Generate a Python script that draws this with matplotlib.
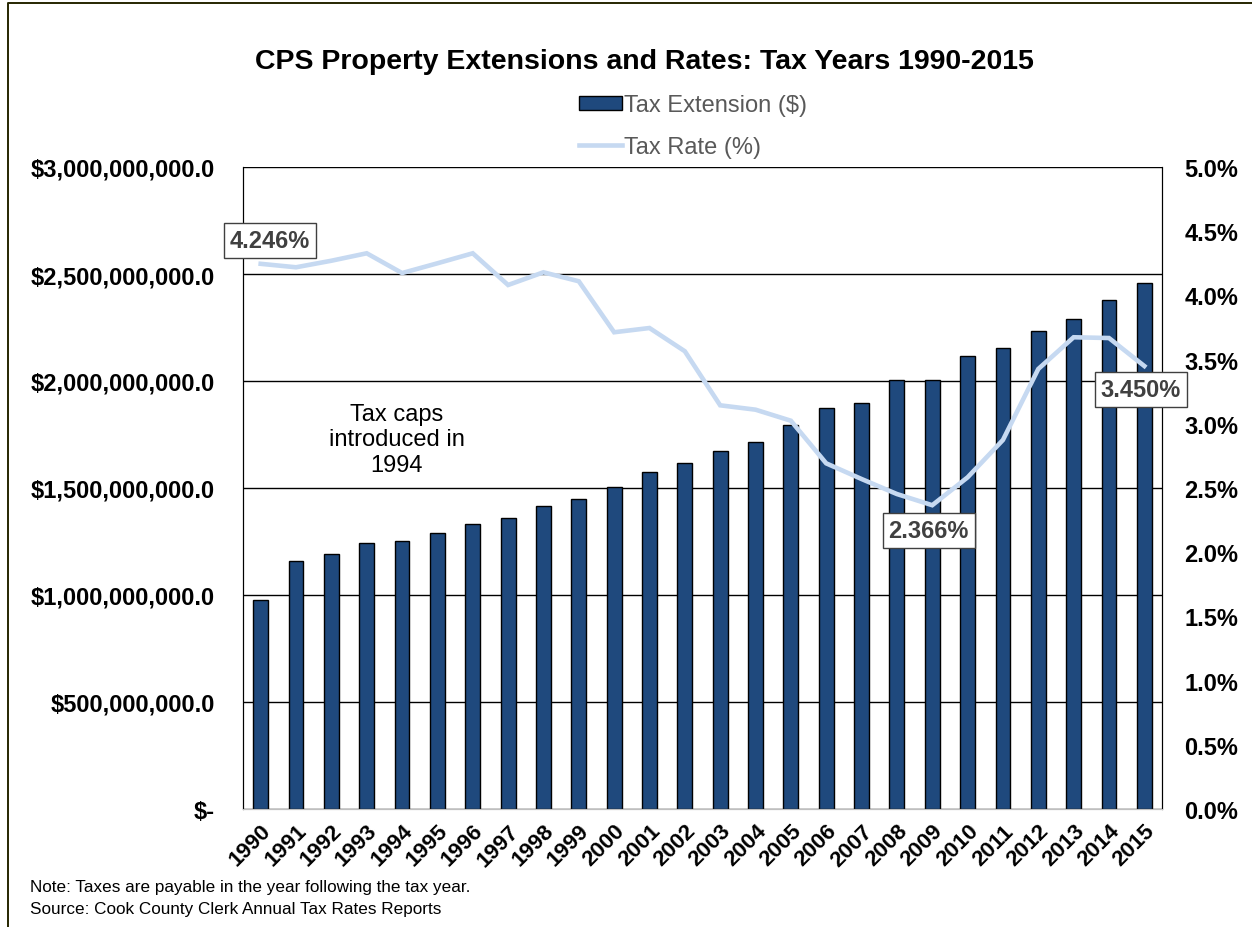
import matplotlib
matplotlib.use('Agg')
import matplotlib.pyplot as plt
from matplotlib.lines import Line2D
from matplotlib.patches import Patch
from matplotlib.ticker import FuncFormatter, MultipleLocator
import numpy as np

plt.rcParams['font.family'] = ['Liberation Sans', 'DejaVu Sans']

years = [str(y) for y in range(1990, 2016)]
# tax extension, dollars
extension = [0.978e9, 1.159e9, 1.193e9, 1.243e9, 1.254e9, 1.290e9, 1.332e9,
             1.358e9, 1.414e9, 1.449e9, 1.505e9, 1.575e9, 1.617e9, 1.671e9,
             1.713e9, 1.796e9, 1.872e9, 1.899e9, 2.003e9, 2.003e9, 2.115e9,
             2.156e9, 2.234e9, 2.288e9, 2.379e9, 2.457e9]
# tax rate, percent
rate = [4.246, 4.219, 4.270, 4.328, 4.174, 4.250, 4.328, 4.081, 4.180, 4.110,
        3.713, 3.746, 3.565, 3.144, 3.110, 3.024, 2.692, 2.570, 2.453, 2.366,
        2.583, 2.874, 3.427, 3.674, 3.668, 3.450]

bar_col = '#1F497D'
line_col = '#C6D9F1'
lbl_col = '#404040'

fig = plt.figure(figsize=(12.52, 9.28), dpi=100)
ax = fig.add_axes([243 / 1252, 1 - 810 / 928, 919 / 1252, 642 / 928])
ax2 = ax.twinx()

x = np.arange(len(years))
ax.bar(x, extension, width=0.42, color=bar_col, edgecolor='black',
       linewidth=1, zorder=3)
ax.set_xlim(-0.5, len(years) - 0.5)
ax.set_ylim(0, 3e9)
ax.yaxis.set_major_locator(MultipleLocator(5e8))
ax.yaxis.set_major_formatter(FuncFormatter(
    lambda v, p: '$-' if v == 0 else '${:,.1f}'.format(v)))
ax.grid(axis='y', color='black', linewidth=1, zorder=0)
ax.set_axisbelow(True)
ax.set_xticks(x)
ax.set_xticklabels(years, rotation=45, ha='right', va='top',
                   rotation_mode='anchor', fontsize=16, fontweight='bold')
ax.tick_params(axis='x', length=0, pad=8)
ax.tick_params(axis='y', length=0, labelsize=17, pad=20)
for t in ax.get_yticklabels():
    t.set_fontweight('bold')

ax2.plot(x, rate, color=line_col, linewidth=3.3, solid_joinstyle='miter')
ax2.set_ylim(0, 5)
ax2.yaxis.set_major_locator(MultipleLocator(0.5))
ax2.yaxis.set_major_formatter(FuncFormatter(lambda v, p: '{:.1f}%'.format(v)))
ax2.tick_params(axis='y', length=0, labelsize=17, pad=16)
for t in ax2.get_yticklabels():
    t.set_fontweight('bold')

for a in (ax, ax2):
    a.spines['top'].set_visible(False)
    a.spines['left'].set_color('black')
    a.spines['right'].set_color('black')
    a.spines['bottom'].set_color('#BFBFBF')

# labelled points
box = dict(boxstyle='square,pad=0.25', facecolor='white', edgecolor=lbl_col,
           linewidth=1)
for i, dx, dy in [(0, 0.26, 4.43), (19, 18.9, 2.17), (25, 24.9, 3.27)]:
    ax2.text(dx, dy, '{:.3f}%'.format(rate[i]), ha='center', va='center',
             fontsize=17, fontweight='bold', color=lbl_col, bbox=box, zorder=5)

ax2.text(3.85, 2.88, 'Tax caps\nintroduced in\n1994', ha='center', va='center',
         fontsize=17, color='black', linespacing=1.2)

fig.text(644 / 1252, 1 - 62 / 928,
         'CPS Property Extensions and Rates: Tax Years 1990-2015',
         ha='center', va='center', fontsize=20.5, fontweight='bold')

handles = [Patch(facecolor=bar_col, edgecolor='black', linewidth=1),
           Line2D([], [], color=line_col, linewidth=3.3)]
leg = fig.legend(handles, ['Tax Extension ($)', 'Tax Rate (%)'],
                 loc='upper left', bbox_to_anchor=(579 / 1252, 1 - 95 / 928),
                 frameon=False, fontsize=17, borderpad=0, borderaxespad=0,
                 handlelength=1.8, handleheight=0.55, handletextpad=0.12,
                 labelspacing=0.85)
for t in leg.get_texts():
    t.set_color('#595959')

fig.text(30 / 1252, 1 - 888 / 928,
         'Note: Taxes are payable in the year following the tax year.',
         ha='left', va='center', fontsize=12.3)
fig.text(30 / 1252, 1 - 910 / 928,
         'Source: Cook County Clerk Annual Tax Rates Reports',
         ha='left', va='center', fontsize=12.3)

# outer frame (left and top edges visible in the original)
fig.add_artist(Line2D([7.5 / 1252, 7.5 / 1252, 1], [0, 1 - 3.5 / 928, 1 - 3.5 / 928],
                      transform=fig.transFigure, color='#262600', linewidth=1.4))

fig.savefig('out.png', dpi=100)
